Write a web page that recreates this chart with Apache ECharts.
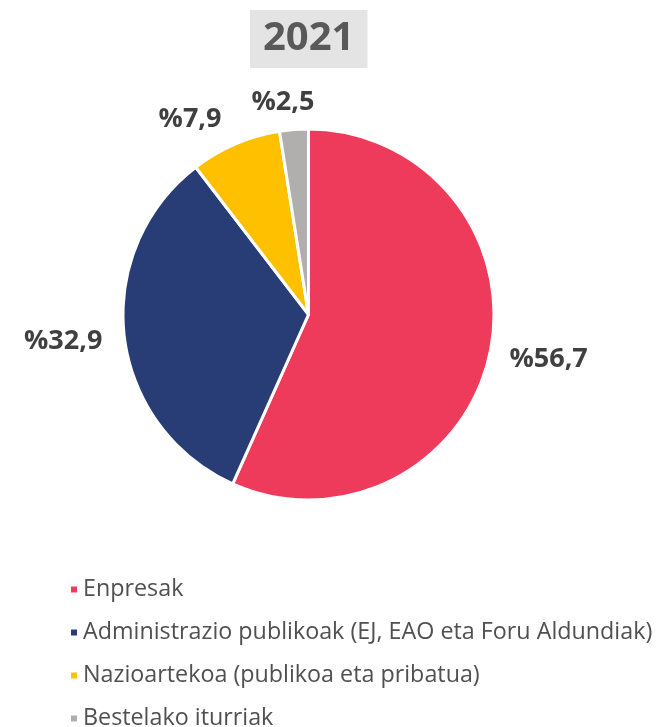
<!DOCTYPE html>
<html>
<head>
<meta charset="utf-8">
<script src="https://cdn.jsdelivr.net/npm/echarts@6/dist/echarts.min.js"></script>
<style>
  html, body { margin: 0; padding: 0; background: #ffffff; }
  #chart { width: 661px; height: 727px; }
</style>
</head>
<body>
<div id="chart"></div>
<script>
// Datuak
const urtea = '2021';
const kategoriak = [
  'Enpresak',
  'Administrazio publikoak (EJ, EAO eta Foru Aldundiak)',
  'Nazioartekoa (publikoa eta pribatua)',
  'Bestelako iturriak'
];
const balioak = [56.7, 32.9, 7.9, 2.5];
const koloreak = ['#EE3B5B', '#283D75', '#FFC000', '#B1AFAD'];

// etiketen doikuntza txikiak (px)
const etiketaMugimendua = [[-5, 2], [3, 3], [-1, -6], [27, -7]];

const chart = echarts.init(document.getElementById('chart'), null, { renderer: 'canvas' });

const option = {
  animation: false,
  backgroundColor: '#ffffff',
  title: {
    text: urtea,
    left: 250,
    top: 10,
    backgroundColor: '#E4E4E4',
    padding: [9, 13],
    textStyle: {
      fontFamily: 'Open Sans',
      fontWeight: 'bold',
      fontSize: 40,
      lineHeight: 40,
      color: '#595959'
    }
  },
  legend: {
    orient: 'vertical',
    left: 69,
    top: 578,
    height: 220,
    padding: 0,
    icon: 'rect',
    itemWidth: 8,
    itemHeight: 8,
    itemGap: 20,
    textStyle: {
      fontFamily: 'Open Sans',
      fontSize: 23.3,
      lineHeight: 20,
      color: '#505050'
    },
    data: kategoriak
  },
  series: [
    {
      type: 'pie',
      center: [308.5, 314.5],
      radius: 185.5,
      startAngle: 90,
      clockwise: true,
      avoidLabelOverlap: false,
      itemStyle: {
        borderColor: '#ffffff',
        borderWidth: 3
      },
      label: {
        show: true,
        position: 'outside',
        fontFamily: 'Open Sans',
        fontWeight: 'bold',
        fontSize: 27,
        color: '#404040',
        formatter: function(p) {
          return '%' + p.value.toFixed(1).replace('.', ',');
        }
      },
      labelLine: {
        show: false,
        length: 20,
        length2: 0
      },
      labelLayout: function(params) {
        const m = etiketaMugimendua[params.dataIndex];
        return { dx: m[0], dy: m[1] };
      },
      emphasis: { disabled: true },
      data: kategoriak.map((izena, i) => ({
        name: izena,
        value: balioak[i],
        itemStyle: { color: koloreak[i] }
      }))
    }
  ]
};

chart.setOption(option);
</script>
</body>
</html>
